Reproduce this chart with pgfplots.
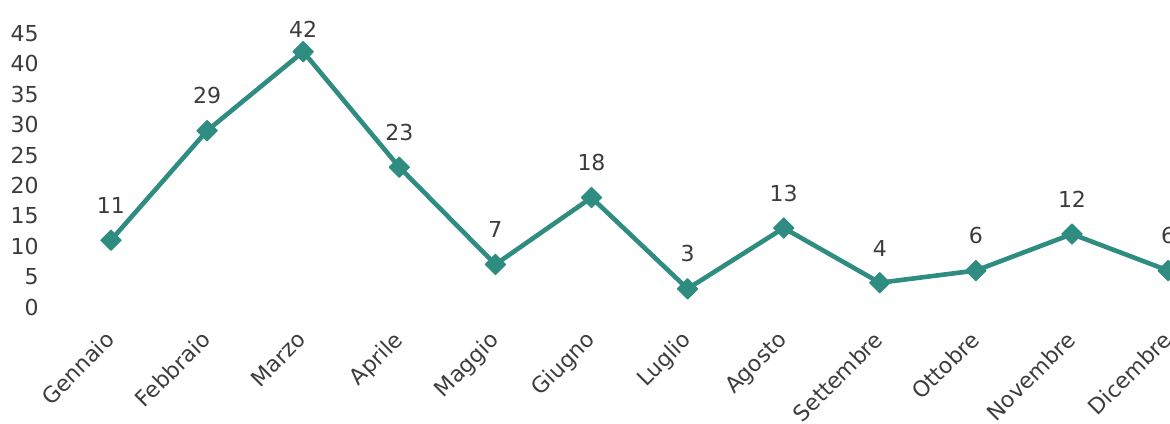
\documentclass[border=0pt]{standalone}
\usepackage{pgfplots}
\pgfplotsset{compat=1.18}
\usepackage{fontspec}
\setmainfont{DejaVu Sans}
\definecolor{teal1}{RGB}{47,140,129}
\definecolor{txt}{RGB}{60,60,60}
\begin{document}
\begin{tikzpicture}
\begin{axis}[
 x=48.05pt, y=3.04pt,
 xmin=-0.68, xmax=11.5, ymin=-2, ymax=45,
 clip=false,
 axis lines=left,
 axis line style={draw=none,-},
 major tick length=0pt,
 xtick={0,...,11},
 xticklabels={Gennaio,Febbraio,Marzo,Aprile,Maggio,Giugno,Luglio,Agosto,Settembre,Ottobre,Novembre,Dicembre},
 ytick={0,5,...,45},
 tick label style={font=\fontsize{11}{13}\selectfont, text=txt},
 xticklabel style={rotate=45, anchor=north east, inner sep=1pt, xshift=-5pt},
 yticklabel style={anchor=east},
 /pgf/number format/assume math mode=true,
 nodes near coords,
 every node near coord/.append style={font=\fontsize{11}{13}\selectfont, text=txt, anchor=south, inner sep=0pt, yshift=13pt},
 coordinate style/.condition={\coordindex==2}{yshift=-6pt},
]
\addplot[teal1, line width=2.3pt, line join=round, mark=square*, mark size=3.6pt, mark options={rotate=45, fill=teal1, draw=teal1, line width=0.5pt}] coordinates {
(0,11) (1,29) (2,42) (3,23) (4,7) (5,18) (6,3) (7,13) (8,4) (9,6) (10,12) (11,6)
};
\coordinate (bl) at (axis cs:-1.155,-19.08);
\coordinate (tr) at (axis cs:11.02,50.5);
\end{axis}
\pgfresetboundingbox
\path[use as bounding box] (bl) rectangle (tr);
\end{tikzpicture}
\end{document}
